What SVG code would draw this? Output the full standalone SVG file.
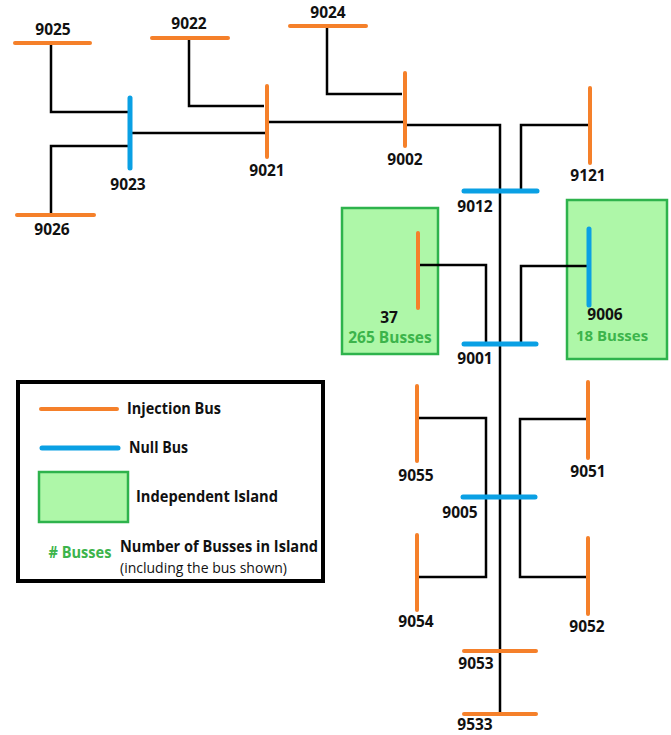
<svg xmlns="http://www.w3.org/2000/svg" width="671" height="735" viewBox="0 0 671 735">
<style>
.inj{stroke:#f5802a;stroke-width:4;stroke-linecap:round;fill:none}
.nul{stroke:#0aa0e4;stroke-width:5;stroke-linecap:round;fill:none}
.wire{stroke:#000;stroke-width:2.5;fill:none}
.isl{fill:#aef7a8;stroke:#2eb34c;stroke-width:2.5}
.lbl{font-family:"Open Sans","Liberation Sans",sans-serif;font-weight:bold;font-size:15.5px;fill:#111;text-anchor:middle}
.cnt{font-family:"Open Sans","Liberation Sans",sans-serif;font-weight:bold;font-size:15.5px;fill:#3cb44b;text-anchor:middle}
.leg{font-family:"Open Sans","Liberation Sans",sans-serif;font-weight:bold;font-size:15.5px;fill:#111}
.legs{font-family:"Open Sans","Liberation Sans",sans-serif;font-size:14px;fill:#111}
</style>
<rect width="671" height="735" fill="#fff"/>
<g id="islands">
<rect id="island-37" class="isl" x="342" y="208" width="96" height="146"/>
<rect id="island-9006" class="isl" x="567" y="200" width="100" height="159"/>
</g>
<g id="connectors">
<polyline class="wire" points="51,44 51,112 128,112"/>
<polyline class="wire" points="51,214 51,146 128,146"/>
<line class="wire" x1="132" y1="133" x2="265" y2="133"/>
<polyline class="wire" points="189,39 189,106 264,106"/>
<line class="wire" x1="269" y1="122" x2="403" y2="122"/>
<polyline class="wire" points="327,27 327,94 402,94"/>
<polyline class="wire" points="407,125 500,125 500,714"/>
<polyline class="wire" points="588,125 521,125 521,190"/>
<polyline class="wire" points="420,265 486,265 486,343"/>
<polyline class="wire" points="587,266 521,266 521,343"/>
<polyline class="wire" points="419,418 486,418 486,577 419,577"/>
<polyline class="wire" points="586,419 520,419 520,577 586,577"/>
</g>
<g id="bus-9025"><line class="inj" x1="15" y1="43" x2="90" y2="43"/><text class="lbl" x="53" y="35">9025</text></g>
<g id="bus-9026"><line class="inj" x1="17" y1="215" x2="94" y2="215"/><text class="lbl" x="52" y="235">9026</text></g>
<g id="bus-9023"><line class="nul" x1="130" y1="98" x2="130" y2="168"/><text class="lbl" x="128" y="190">9023</text></g>
<g id="bus-9022"><line class="inj" x1="152" y1="38" x2="228" y2="38"/><text class="lbl" x="189" y="29">9022</text></g>
<g id="bus-9021"><line class="inj" x1="267" y1="86" x2="267" y2="157"/><text class="lbl" x="267" y="176">9021</text></g>
<g id="bus-9024"><line class="inj" x1="290" y1="26" x2="366" y2="26"/><text class="lbl" x="328" y="18">9024</text></g>
<g id="bus-9002"><line class="inj" x1="405" y1="73" x2="405" y2="146"/><text class="lbl" x="405" y="165">9002</text></g>
<g id="bus-9121"><line class="inj" x1="590" y1="88" x2="590" y2="163"/><text class="lbl" x="588" y="181">9121</text></g>
<g id="bus-9012"><line class="nul" x1="464" y1="191" x2="537" y2="191"/><text class="lbl" x="475" y="212">9012</text></g>
<g id="bus-37"><line class="inj" x1="418" y1="233" x2="418" y2="308"/><text class="lbl" x="389" y="323">37</text><text class="cnt" x="390" y="343">265 Busses</text></g>
<g id="bus-9006"><line class="nul" x1="589" y1="229" x2="589" y2="305"/><text class="lbl" x="605" y="320">9006</text><text class="cnt" x="612" y="341" style="font-size:15px">18 Busses</text></g>
<g id="bus-9001"><line class="nul" x1="464" y1="344" x2="536" y2="344"/><text class="lbl" x="475" y="364">9001</text></g>
<g id="bus-9055"><line class="inj" x1="417" y1="386" x2="417" y2="461"/><text class="lbl" x="416" y="481">9055</text></g>
<g id="bus-9051"><line class="inj" x1="588" y1="382" x2="588" y2="458"/><text class="lbl" x="588" y="477">9051</text></g>
<g id="bus-9005"><line class="nul" x1="463" y1="497" x2="535" y2="497"/><text class="lbl" x="460" y="518">9005</text></g>
<g id="bus-9054"><line class="inj" x1="417" y1="535" x2="417" y2="610"/><text class="lbl" x="416" y="627">9054</text></g>
<g id="bus-9052"><line class="inj" x1="588" y1="538" x2="588" y2="614"/><text class="lbl" x="587" y="632">9052</text></g>
<g id="bus-9053"><line class="inj" x1="464" y1="651" x2="536" y2="651"/><text class="lbl" x="476" y="669">9053</text></g>
<g id="bus-9533"><line class="inj" x1="464" y1="714" x2="536" y2="714"/><text class="lbl" x="475" y="730">9533</text></g>
<g id="legend">
<rect x="18" y="382" width="305" height="199" fill="#fff" stroke="#000" stroke-width="4"/>
<line class="inj" x1="41" y1="409" x2="117" y2="409"/>
<text class="leg" x="127" y="414" textLength="94" lengthAdjust="spacingAndGlyphs">Injection Bus</text>
<line class="nul" x1="42" y1="448" x2="118" y2="448"/>
<text class="leg" x="129" y="453" textLength="59" lengthAdjust="spacingAndGlyphs">Null Bus</text>
<rect class="isl" x="39" y="472" width="89" height="50"/>
<text class="leg" x="136" y="502" textLength="142" lengthAdjust="spacingAndGlyphs">Independent Island</text>
<text class="cnt" x="80" y="558" textLength="63" lengthAdjust="spacingAndGlyphs">#  Busses</text>
<text class="leg" x="120" y="552" textLength="198" lengthAdjust="spacingAndGlyphs">Number of Busses in Island</text>
<text class="legs" x="120" y="573" textLength="167" lengthAdjust="spacingAndGlyphs">(including the bus shown)</text>
</g>
</svg>
